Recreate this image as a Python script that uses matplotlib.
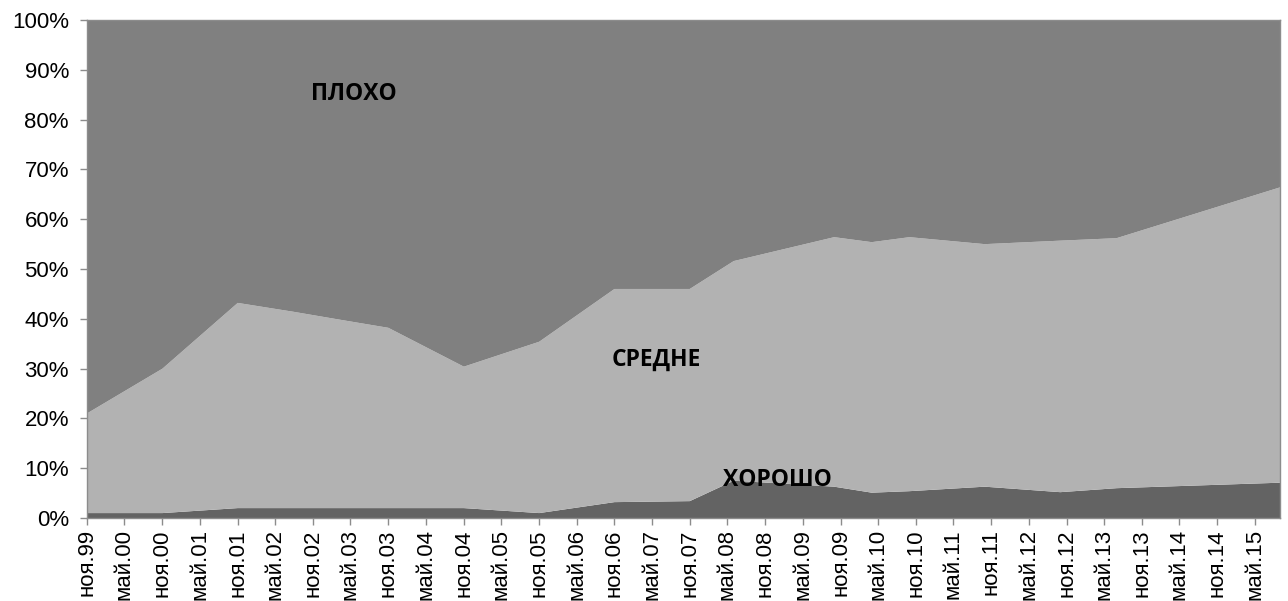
import pandas as pd
import matplotlib.pyplot as plt
import matplotlib.ticker as mticker

# survey dates (month precision)
dates = ["1999-11", "2000-11", "2001-11", "2002-08", "2003-03", "2003-11",
         "2004-11", "2005-11", "2006-11", "2007-11", "2008-06", "2009-10",
         "2010-04", "2010-10", "2011-10", "2012-10", "2013-07", "2015-09"]

# shares, %
horosho = [1.0, 1.0, 2.0, 2.0, 2.0, 2.0, 2.0, 1.0, 3.2, 3.4, 7.5, 6.3,
           5.1, 5.4, 6.3, 5.2, 6.0, 7.1]
sredne_top = [21.0, 30.0, 43.2, 41.4, 39.9, 38.2, 30.4, 35.4, 46.0, 46.0, 51.6, 56.4,
              55.4, 56.4, 55.0, 55.7, 56.2, 66.4]
sredne = [t - h for t, h in zip(sredne_top, horosho)]
ploho = [100 - t for t in sredne_top]

tick_dates = pd.date_range("1999-11-01", "2015-05-01", freq="6MS")
tick_labels = ["ноя.99", "май.00", "ноя.00", "май.01", "ноя.01", "май.02", "ноя.02", "май.03",
               "ноя.03", "май.04", "ноя.04", "май.05", "ноя.05", "май.06", "ноя.06", "май.07",
               "ноя.07", "май.08", "ноя.08", "май.09", "ноя.09", "май.10", "ноя.10", "май.11",
               "ноя.11", "май.12", "ноя.12", "май.13", "ноя.13", "май.14", "ноя.14", "май.15"]

x = pd.to_datetime(dates)

fig = plt.figure(figsize=(12.88, 6.01), dpi=100)
ax = fig.add_axes([0.0675, 0.138, 0.9263, 0.8287])

ax.stackplot(x, horosho, sredne, ploho,
             colors=["#636363", "#b2b2b2", "#808080"], linewidth=0)

ax.set_xlim(pd.Timestamp("1999-11-01"), pd.Timestamp("2015-09-01"))
ax.set_ylim(0, 100)

ax.set_xticks(tick_dates)
ax.set_xticklabels(tick_labels, rotation=90, fontsize=16, family="Liberation Sans")
ax.set_yticks(range(0, 101, 10))
ax.yaxis.set_major_formatter(mticker.FuncFormatter(lambda v, p: f"{v:.0f}%"))
for lab in ax.get_yticklabels():
    lab.set_fontsize(16)
    lab.set_family("Liberation Sans")

ax.tick_params(axis="both", direction="out", length=5, color="#8c8c8c", width=1)
ax.tick_params(axis="x", pad=3)
ax.tick_params(axis="y", pad=8)
for s in ax.spines.values():
    s.set_color("#8c8c8c")
    s.set_linewidth(1)

lbl = dict(fontsize=16.5, fontweight="bold", family="Open Sans",
           ha="center", va="center", transform=ax.transAxes)
ax.text(0.224, 0.851, "ПЛОХО", **lbl)
ax.text(0.477, 0.317, "СРЕДНЕ", **lbl)
ax.text(0.579, 0.076, "ХОРОШО", **lbl)

fig.savefig("out.png", dpi=100)
